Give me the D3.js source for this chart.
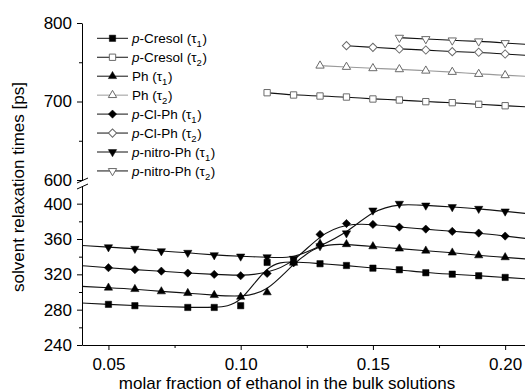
<!DOCTYPE html>
<html>
<head>
<meta charset="utf-8">
<script src="https://cdn.jsdelivr.net/npm/d3@7"></script>
<style>
  body { margin: 0; background: #fff; }
  svg { font-family: "Liberation Sans", Arial, sans-serif; }
  .axis path, .axis line { stroke: #000; }
  .axis text { font-size: 17px; fill: #000; }
</style>
</head>
<body>
<svg width="525" height="392"></svg>
<script>
// x positions of the measurements (molar fraction of ethanol)
var xValues = [0.05, 0.06, 0.07, 0.08, 0.09, 0.10, 0.11, 0.12, 0.13, 0.14, 0.15, 0.16, 0.17, 0.18, 0.19, 0.20];

// tau1 (lower panel), ps
var cresolT1 = [286, 284.5, null, 282.5, 282.5, 284.5, 333.5, 334.6, 332, 330, 327, 325.2, 321.8, 320.2, 318.4, 316.5];
var phT1     = [304.8, 303.2, 300.6, 298.7, 296.4, 294.5, 299.5, 333, 354.5, 354, 351.6, 349, 346.7, 344.5, 341.4, 339.2];
var clT1     = [327.5, 325.2, 323.6, 321.4, 319.9, 318.4, 321, 333, 365.2, 377.5, 376.5, 373.5, 371.2, 368.6, 366.7, 363.3];
var nitroT1  = [350.8, 349, 346.3, 344.5, 341.8, 340.3, 339.5, 337.7, 352, 366.5, 392.4, 400, 398, 396.2, 394.3, 391.3];

// tau2 (upper panel), ps
var cresolT2 = [null, null, null, null, null, null, 711.2, 708.3, 707, 705.7, 703.2, 701.9, 699.8, 698.5, 696.4, 694.6];
var phT2     = [null, null, null, null, null, null, null, null, 745.6, 744, 742.3, 741, 739.2, 737.6, 735, 733.4];
var clT2     = [null, null, null, null, null, null, null, null, null, 771.1, 769, 766.9, 765.6, 763.5, 762.7, 760.5];
var nitroT2  = [null, null, null, null, null, null, null, null, null, null, null, 781.3, 779.6, 777.9, 776.7, 774.5];

var xTicks = [0.05, 0.10, 0.15, 0.20],
    xMinor = [0.075, 0.125, 0.175],
    yUpTicks = [600, 700, 800],
    yUpMinor = [650, 750],
    yLowTicks = [240, 280, 320, 360, 400],
    yLowMinor = [260, 300, 340, 380];

var svg = d3.select("svg");

var x = d3.scaleLinear().domain([0.04, 0.21]).range([82, 531.6]);
var yUp = d3.scaleLinear().domain([600, 800]).range([180, 23]);
var yLow = d3.scaleLinear().domain([240, 420]).range([345, 186]);

var series = [
  {pre: "p", name: "-Cresol", sub: "1", values: cresolT1, sym: "square",  open: false, y: yLow, ext: true},
  {pre: "p", name: "-Cresol", sub: "2", values: cresolT2, sym: "square",  open: true,  y: yUp,  ext: false},
  {pre: "",  name: "Ph",      sub: "1", values: phT1,     sym: "up",      open: false, y: yLow, ext: true},
  {pre: "",  name: "Ph",      sub: "2", values: phT2,     sym: "up",      open: true,  y: yUp,  ext: false, light: true},
  {pre: "p", name: "-Cl-Ph",  sub: "1", values: clT1,     sym: "diamond", open: false, y: yLow, ext: true},
  {pre: "p", name: "-Cl-Ph",  sub: "2", values: clT2,     sym: "diamond", open: true,  y: yUp,  ext: false},
  {pre: "p", name: "-nitro-Ph", sub: "1", values: nitroT1, sym: "down",   open: false, y: yLow, ext: true},
  {pre: "p", name: "-nitro-Ph", sub: "2", values: nitroT2, sym: "down",   open: true,  y: yUp,  ext: false}
];

var symbols = {
  square:  {type: d3.symbolSquare,   size: 40, rot: 0},
  diamond: {type: d3.symbolSquare,   size: 34, rot: 45},
  up:      {type: d3.symbolTriangle, size: 30, rot: 0},
  down:    {type: d3.symbolTriangle, size: 30, rot: 180}
};

function points(s) {
  return xValues.map(function(v, i) { return {x: v, y: s.values[i]}; })
    .filter(function(d) { return d.y != null; });
}

// stretch the smoothed line out to the plot edges like the fitted curves
function extended(pts, left) {
  var out = pts.slice(), n = pts.length, a, b;
  if (left) {
    a = pts[0]; b = pts[1];
    out.unshift({x: 0.04, y: a.y - (b.y - a.y) / (b.x - a.x) * (a.x - 0.04)});
  }
  a = pts[n - 2]; b = pts[n - 1];
  out.push({x: 0.21, y: b.y + (b.y - a.y) / (b.x - a.x) * (0.21 - b.x)});
  return out;
}

svg.append("clipPath").attr("id", "plot")
  .append("rect").attr("x", 82).attr("y", 0).attr("width", 450).attr("height", 345);

var plot = svg.append("g").attr("clip-path", "url(#plot)");

series.forEach(function(s) {
  var pts = points(s);
  var line = d3.line()
    .curve(d3.curveBasis)
    .x(function(d) { return x(d.x); })
    .y(function(d) { return s.y(d.y); });

  plot.append("path")
    .datum(extended(pts, s.ext))
    .attr("fill", "none")
    .attr("stroke", s.light ? "#9a9a9a" : "#111")
    .attr("stroke-width", 1.1)
    .attr("d", line);
});

series.forEach(function(s) {
  var sm = symbols[s.sym];
  plot.selectAll(null)
    .data(points(s))
    .enter().append("path")
      .attr("transform", function(d) { return "translate(" + x(d.x) + "," + s.y(d.y) + ") rotate(" + sm.rot + ")"; })
      .attr("d", d3.symbol(sm.type, sm.size))
      .attr("fill", s.open ? "#fff" : "#000")
      .attr("stroke", s.open ? "#6a6a6a" : "#000")
      .attr("stroke-width", s.open ? 1 : 0.5);
});

// axes
svg.append("g").attr("class", "axis")
  .attr("transform", "translate(0,345)")
  .call(d3.axisBottom(x).tickValues(xTicks).tickFormat(d3.format(".2f")).tickSize(5).tickSizeOuter(0).tickPadding(8));
svg.append("g").attr("class", "axis")
  .attr("transform", "translate(0,345)")
  .call(d3.axisBottom(x).tickValues(xMinor).tickFormat("").tickSize(3).tickSizeOuter(0))
  .select(".domain").remove();

svg.append("g").attr("class", "axis")
  .attr("transform", "translate(82,0)")
  .call(d3.axisLeft(yUp).tickValues(yUpTicks).tickSize(5).tickSizeOuter(0).tickPadding(5));
svg.append("g").attr("class", "axis")
  .attr("transform", "translate(82,0)")
  .call(d3.axisLeft(yUp).tickValues(yUpMinor).tickFormat("").tickSize(3).tickSizeOuter(0))
  .select(".domain").remove();

svg.append("g").attr("class", "axis")
  .attr("transform", "translate(82,0)")
  .call(d3.axisLeft(yLow).tickValues(yLowTicks).tickSize(5).tickSizeOuter(0).tickPadding(5));
svg.append("g").attr("class", "axis")
  .attr("transform", "translate(82,0)")
  .call(d3.axisLeft(yLow).tickValues(yLowMinor).tickFormat("").tickSize(3).tickSizeOuter(0))
  .select(".domain").remove();

// axis break marks
[0, 6].forEach(function(off) {
  svg.append("line")
    .attr("x1", 77).attr("y1", yUp(600) + 3 + off)
    .attr("x2", 88).attr("y2", yUp(600) - 2 + off)
    .attr("stroke", "#000");
});

// axis titles
svg.append("text")
  .attr("x", 287).attr("y", 389)
  .attr("text-anchor", "middle")
  .style("font-size", "17px")
  .text("molar fraction of ethanol in the bulk solutions");

svg.append("text")
  .attr("transform", "translate(24,187) rotate(-90)")
  .attr("text-anchor", "middle")
  .style("font-size", "17px")
  .text("solvent relaxation times [ps]");

// legend
var legend = svg.append("g");
series.forEach(function(s, i) {
  var yy = 38.3 + i * 18.95, sm = symbols[s.sym];
  legend.append("line")
    .attr("x1", 97).attr("x2", 128).attr("y1", yy).attr("y2", yy)
    .attr("stroke", s.light ? "#9a9a9a" : "#111");
  legend.append("path")
    .attr("transform", "translate(112.5," + yy + ") rotate(" + sm.rot + ")")
    .attr("d", d3.symbol(sm.type, sm.size))
    .attr("fill", s.open ? "#fff" : "#000")
    .attr("stroke", s.open ? "#6a6a6a" : "#000")
    .attr("stroke-width", s.open ? 1 : 0.5);
  var t = legend.append("text")
    .attr("x", 132).attr("y", yy).attr("dy", "0.36em")
    .style("font-size", "13.5px");
  if (s.pre) t.append("tspan").style("font-style", "italic").text(s.pre);
  t.append("tspan").text(s.name + " (\u03c4");
  t.append("tspan").attr("dy", 4).style("font-size", "9.5px").text(s.sub);
  t.append("tspan").attr("dy", -4).attr("dx", 0.5).text(")");
});
</script>
</body>
</html>
